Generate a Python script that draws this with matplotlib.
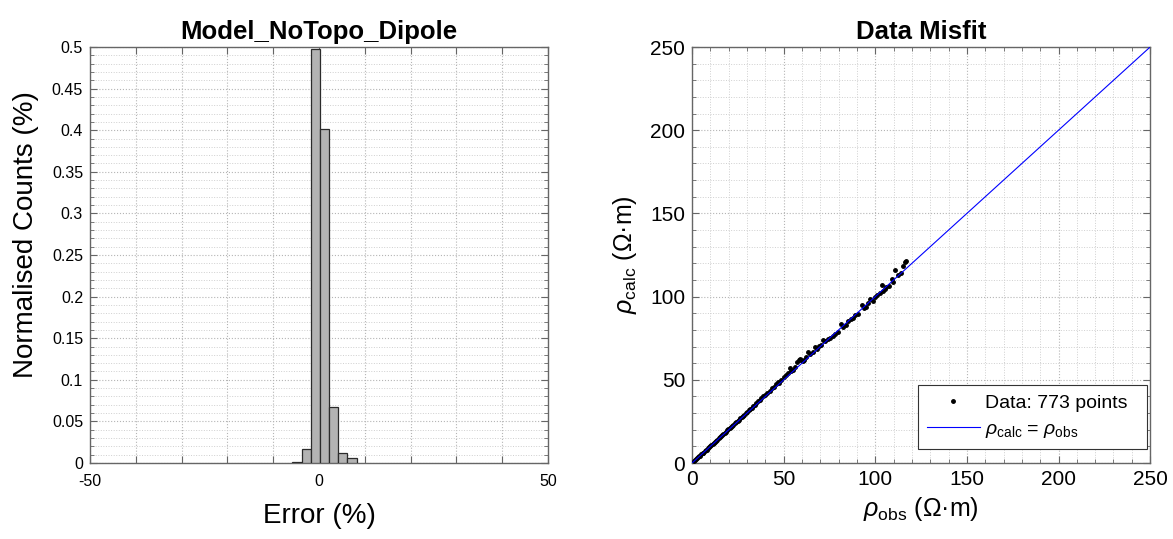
import matplotlib
matplotlib.use('Agg')
import matplotlib.pyplot as plt
from matplotlib.ticker import MultipleLocator
import numpy as np

plt.rcParams['font.family'] = ['Liberation Sans', 'DejaVu Sans']
plt.rcParams['mathtext.fontset'] = 'custom'
plt.rcParams['mathtext.rm'] = 'Liberation Sans'
plt.rcParams['mathtext.it'] = 'Liberation Sans:italic'
plt.rcParams['mathtext.bf'] = 'Liberation Sans:bold'

# histogram of misfit error (bin centres in %, normalised counts)
err_centres = [-4.8, -2.8, -0.8, 1.2, 3.2, 5.2, 7.2]
err_counts = [0.0015, 0.0165, 0.497, 0.401, 0.067, 0.0117, 0.006]
bin_width = 2.0

rho_obs = [1.2, 1.8, 2.3, 2.9, 3.4, 4.0, 4.6, 5.1, 5.7, 6.2, 6.8, 7.5, 8.1, 8.7, 9.3,
           9.9, 10.6, 11.2, 11.9, 12.5, 13.2, 13.8, 14.5, 15.1, 15.8, 16.4, 17.1, 17.8, 18.4, 19.1,
           19.8, 20.5, 21.1, 21.8, 22.6, 23.3, 24.0, 24.8, 25.5, 26.2, 27.0, 27.8, 28.5, 29.3, 30.1,
           30.9, 31.7, 32.5, 33.4, 34.2, 35.1, 36.0, 36.9, 37.8, 38.7, 39.6,
           41.0, 42.3, 43.5, 44.8, 46.0, 46.9, 47.5, 48.8, 50.0, 51.2, 52.4, 53.2, 54.0, 55.1, 56.3,
           57.0, 58.2, 59.0, 59.6, 60.3, 61.2, 62.0, 63.3, 64.5, 65.8, 67.0, 68.2, 69.5, 70.3, 71.5,
           72.8, 74.0, 75.5, 76.8, 78.0, 79.7, 81.1, 82.5, 84.0, 85.2, 86.5, 87.8, 89.0, 90.3, 92.5,
           93.8, 95.0, 96.2, 97.0, 98.5, 100.0, 101.2, 102.3, 103.4, 104.0, 105.2, 106.0, 107.5, 108.9, 109.5,
           110.7, 112.5, 114.0, 115.2, 116.1, 116.8]
rho_calc = [1.3, 1.9, 2.2, 3.1, 3.5, 4.2, 4.5, 5.3, 5.9, 6.1, 7.0, 7.7, 8.0, 8.9, 9.6,
            10.1, 10.9, 11.5, 12.0, 12.9, 13.5, 14.0, 14.9, 15.5, 16.2, 16.6, 17.6, 18.3, 18.7, 19.6,
            20.3, 20.9, 21.6, 22.3, 23.0, 23.9, 24.6, 25.2, 26.1, 26.8, 27.6, 28.5, 29.1, 29.9, 30.8,
            31.6, 32.4, 33.2, 34.3, 35.1, 36.0, 37.1, 37.9, 38.8, 40.0, 40.9,
            42.0, 43.4, 44.9, 45.8, 47.5, 48.9, 48.0, 50.1, 51.5, 52.6, 53.9, 56.9, 55.2, 56.0, 57.5,
            60.5, 61.8, 62.5, 61.9, 61.2, 62.0, 63.8, 67.0, 65.6, 66.8, 69.5, 68.6, 70.2, 71.0, 73.9,
            73.5, 74.3, 75.0, 76.4, 77.8, 78.9, 83.5, 81.8, 83.0, 85.6, 86.4, 87.2, 88.8, 89.5, 95.0,
            93.0, 93.8, 95.9, 98.4, 97.5, 99.5, 101.0, 102.2, 107.0, 103.5, 104.8, 105.5, 106.4, 110.5, 108.6,
            116.0, 113.0, 114.2, 118.5, 120.5, 121.5]
n_points = 773
rho_max = 250

fig = plt.figure(figsize=(11.73, 5.39), dpi=100)
ax1 = fig.add_axes([0.0767, 0.141, 0.3905, 0.7718])
ax2 = fig.add_axes([0.590, 0.141, 0.3905, 0.7718])

spine_col = '#666666'


def matlab_style(ax, labelsize):
    for s in ax.spines.values():
        s.set_color(spine_col)
        s.set_linewidth(1.0)
    ax.tick_params(which='both', direction='in', top=True, right=True,
                   color=spine_col, labelsize=labelsize, pad=5)
    ax.tick_params(which='major', length=5)
    ax.tick_params(which='minor', length=3)
    ax.grid(which='major', linestyle=':', color='#b5b5b5', linewidth=0.8)
    ax.grid(which='minor', linestyle=':', color='#cfcfcf', linewidth=0.7)
    ax.set_axisbelow(True)


# left: error histogram
ax1.bar(err_centres, err_counts, width=bin_width, color='#b3b3b3',
        edgecolor='#2b2b2b', linewidth=0.9, zorder=3)
ax1.set_xlim(-50, 50)
ax1.set_ylim(0, 0.5)
xt = np.arange(-50, 51, 10)
ax1.set_xticks(xt)
ax1.set_xticklabels(['-50', '', '', '', '', '0', '', '', '', '', '50'])
yt = np.arange(0, 0.501, 0.05)
ax1.set_yticks(yt)
ax1.set_yticklabels(['%g' % round(v, 2) for v in yt])
ax1.yaxis.set_minor_locator(MultipleLocator(0.01))
matlab_style(ax1, 11.5)
ax1.tick_params(axis='x', pad=8)
ax1.set_xlabel('Error (%)', fontsize=20, labelpad=10)
ax1.set_ylabel('Normalised Counts (%)', fontsize=20)
ax1.yaxis.set_label_coords(-0.111, 0.55)
ax1.set_title('Model_NoTopo_Dipole', fontsize=18.5, fontweight='bold', pad=6)

# right: data misfit
ax2.plot(rho_obs, rho_calc, '.', color='black', markersize=5,
         label='Data: %d points  ' % n_points, zorder=3)
ax2.plot([0, rho_max], [0, rho_max], '-', color='blue', linewidth=0.8,
         label=r'$\rho_{\mathrm{calc}}$ = $\rho_{\mathrm{obs}}$', zorder=4)
ax2.set_xlim(0, rho_max)
ax2.set_ylim(0, rho_max)
ax2.xaxis.set_major_locator(MultipleLocator(50))
ax2.yaxis.set_major_locator(MultipleLocator(50))
ax2.xaxis.set_minor_locator(MultipleLocator(10))
ax2.yaxis.set_minor_locator(MultipleLocator(10))
matlab_style(ax2, 15)
ax2.set_xlabel(r'$\rho_{\mathrm{obs}}$ ($\Omega$·m)', fontsize=18, labelpad=4)
ax2.set_ylabel(r'$\rho_{\mathrm{calc}}$ ($\Omega$·m)', fontsize=18, labelpad=8)
ax2.set_title('Data Misfit', fontsize=18.5, fontweight='bold', pad=6)
leg = ax2.legend(loc='lower right', fontsize=14, frameon=True, fancybox=False,
                 edgecolor='#333333', framealpha=1, borderpad=0.45,
                 labelspacing=0.45, handlelength=2.7, handletextpad=0.3,
                 borderaxespad=0, bbox_to_anchor=(0.994, 0.034))
leg.get_frame().set_linewidth(0.8)

fig.savefig('out.png', dpi=100)
